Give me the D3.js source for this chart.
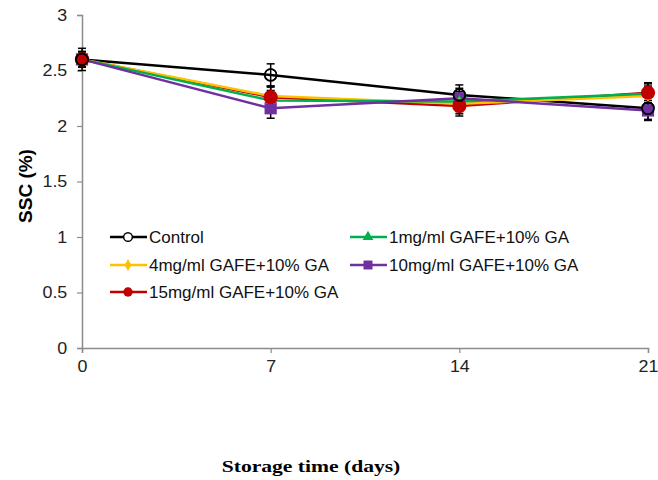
<!DOCTYPE html>
<meta charset="utf-8">
<script src="https://d3js.org/d3.v7.min.js"></script>
<style>
  body { margin: 0; background: #fff; }
  text { font-family: "Liberation Sans", Arial, sans-serif; }
</style>
<div id="chart"></div>
<script>
// data
var days = [0, 7, 14, 21];
var yTicks = [0, 0.5, 1, 1.5, 2, 2.5, 3];

var control = [2.60, 2.46, 2.28, 2.16];
var mg1 = [2.60, 2.23, 2.22, 2.29];
var mg4 = [2.60, 2.27, 2.20, 2.27];
var mg10 = [2.60, 2.16, 2.25, 2.14];
var mg15 = [2.60, 2.26, 2.18, 2.30];

var errControl = [0.10, 0.10, 0.09, 0.10];
var errOther = [0.07, 0.09, 0.09, 0.09];

var seriesNames = ["Control", "1mg/ml GAFE+10% GA", "4mg/ml GAFE+10% GA",
                   "10mg/ml GAFE+10% GA", "15mg/ml GAFE+10% GA"];

var series = [
  {name: seriesNames[0], values: control, err: errControl, color: "#000000", symbol: "open"},
  {name: seriesNames[4], values: mg15, err: errOther, color: "#c00000", symbol: "circle"},
  {name: seriesNames[2], values: mg4, err: errOther, color: "#ffc000", symbol: "diamond"},
  {name: seriesNames[1], values: mg1, err: errOther, color: "#00b050", symbol: "triangle"},
  {name: seriesNames[3], values: mg10, err: errOther, color: "#7030a0", symbol: "square"}
];

var W = 658, H = 480;

var svg = d3.select("#chart").append("svg")
  .attr("width", W).attr("height", H);

var x = d3.scaleLinear().domain([0, 21]).range([82, 648]);
var y = d3.scaleLinear().domain([0, 3]).range([348, 15]);

// axes
var yAxis = svg.append("g")
  .attr("transform", "translate(" + x(0) + ",0)")
  .call(d3.axisLeft(y).tickValues(yTicks).tickSize(5).tickPadding(9)
    .tickFormat(function(d) { return d; }));
var xAxis = svg.append("g")
  .attr("transform", "translate(0," + y(0) + ")")
  .call(d3.axisBottom(x).tickValues(days).tickSize(5).tickPadding(7));

[xAxis, yAxis].forEach(function(a) {
  a.select(".domain").attr("stroke", "#8c8c8c").attr("stroke-width", 1.5);
  a.selectAll(".tick line").attr("stroke", "#8c8c8c").attr("stroke-width", 1.2);
  a.selectAll(".tick text").attr("fill", "#222").style("font-size", "17px")
    .style("font-family", "Liberation Sans, Arial, sans-serif")
    .attr("transform", "scale(1.05,1)");
});

function symbolFor(s) {
  if (s.symbol === "triangle") return d3.symbol().type(d3.symbolTriangle).size(60)();
  if (s.symbol === "diamond") return d3.symbol().type(d3.symbolDiamond).size(50)();
  if (s.symbol === "square") return d3.symbol().type(d3.symbolSquare).size(150)();
  if (s.symbol === "circle") return d3.symbol().type(d3.symbolCircle).size(160)();
  return d3.symbol().type(d3.symbolCircle).size(110)();
}

var line = d3.line()
  .x(function(d, i) { return x(days[i]); })
  .y(function(d) { return y(d); });

// error bars
series.forEach(function(s) {
  var g = svg.append("g");
  s.values.forEach(function(v, i) {
    var cx = x(days[i]);
    var lo = y(v - s.err[i]), hi = y(v + s.err[i]);
    g.append("line").attr("x1", cx).attr("x2", cx).attr("y1", lo).attr("y2", hi)
      .attr("stroke", "#000").attr("stroke-width", 1.5);
    [lo, hi].forEach(function(yy) {
      g.append("line").attr("x1", cx - 4).attr("x2", cx + 4).attr("y1", yy).attr("y2", yy)
        .attr("stroke", "#000").attr("stroke-width", 1.5);
    });
  });
});

// lines
series.forEach(function(s) {
  svg.append("path").datum(s.values)
    .attr("d", line)
    .attr("fill", "none")
    .attr("stroke", s.color)
    .attr("stroke-width", 2.5);
});

// markers
series.slice().reverse().forEach(function(s) {
  svg.append("g").selectAll("path").data(s.values).enter().append("path")
    .attr("transform", function(d, i) { return "translate(" + x(days[i]) + "," + y(d) + ")"; })
    .attr("d", symbolFor(s))
    .attr("fill", s.symbol === "open" ? "none" : s.color)
    .attr("stroke", s.symbol === "open" ? "#000" : "none")
    .attr("stroke-width", 1.5);
});
// control circles on top
svg.append("g").selectAll("path").data(control).enter().append("path")
  .attr("transform", function(d, i) { return "translate(" + x(days[i]) + "," + y(d) + ")"; })
  .attr("d", symbolFor(series[0]))
  .attr("fill", "none").attr("stroke", "#000").attr("stroke-width", 1.5);

// legend
var legendItems = [
  {s: series[0], lx: 110, ly: 237},
  {s: series[3], lx: 350, ly: 237},
  {s: series[2], lx: 110, ly: 265},
  {s: series[4], lx: 350, ly: 265},
  {s: series[1], lx: 110, ly: 292}
];
legendItems.forEach(function(it) {
  var g = svg.append("g").attr("transform", "translate(" + it.lx + "," + it.ly + ")");
  g.append("line").attr("x1", 0).attr("x2", 37).attr("y1", 0).attr("y2", 0)
    .attr("stroke", it.s.color).attr("stroke-width", 2.5);
  var sym = it.s.symbol;
  var size = sym === "open" ? 60 : (sym === "square" ? 80 : (sym === "circle" ? 70 : (sym === "diamond" ? 40 : 50)));
  var type = sym === "triangle" ? d3.symbolTriangle : sym === "diamond" ? d3.symbolDiamond :
             sym === "square" ? d3.symbolSquare : d3.symbolCircle;
  g.append("path").attr("transform", "translate(18,0)")
    .attr("d", d3.symbol().type(type).size(size)())
    .attr("fill", sym === "open" ? "#fff" : it.s.color)
    .attr("stroke", sym === "open" ? "#000" : "none").attr("stroke-width", 1.5);
  g.append("text").attr("x", 39).attr("dy", "0.35em")
    .style("font-size", "17px").attr("fill", "#111").text(it.s.name);
});

// axis titles
svg.append("text")
  .attr("transform", "translate(32,186) rotate(-90)")
  .attr("text-anchor", "middle")
  .style("font-size", "19px").style("font-weight", "bold")
  .text("SSC (%)");

svg.append("text")
  .attr("transform", "translate(311,472) scale(1.27,1)")
  .attr("text-anchor", "middle")
  .style("font-family", "Liberation Serif, Times New Roman, serif")
  .style("font-size", "17px").style("font-weight", "bold")
  .text("Storage time (days)");
</script>
